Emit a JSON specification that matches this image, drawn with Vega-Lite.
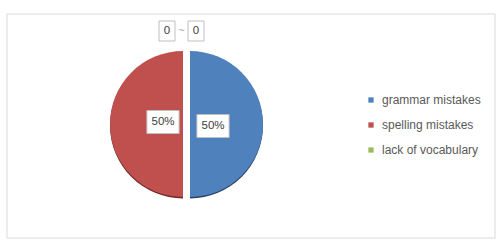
{
  "$schema": "https://vega.github.io/schema/vega-lite/v6.json",
  "width": 488,
  "height": 224,
  "autosize": {"type": "none"},
  "padding": {"left": 7, "top": 14, "right": 6, "bottom": 14},
  "background": "white",
  "config": {"font": "Liberation Sans", "view": {"stroke": "#d9d9d9", "strokeWidth": 1}},
  "data": {
    "values": [
      {"category": "grammar mistakes", "value": 50, "label": "50%", "rank": 1},
      {"category": "spelling mistakes", "value": 50, "label": "50%", "rank": 2},
      {"category": "lack of vocabulary", "value": 0, "label": "0", "rank": 3}
    ]
  },
  "transform": [
    {"stack": "value", "groupby": [], "sort": [{"field": "rank", "order": "ascending"}], "as": ["t0", "t1"]}
  ],
  "encoding": {
    "theta": {"field": "t0", "type": "quantitative", "stack": null, "scale": {"domain": [0, 100]}},
    "theta2": {"field": "t1"}
  },
  "layer": [
    {
      "transform": [{"filter": "datum.category == 'grammar mistakes'"}],
      "mark": {"type": "rect", "fill": null, "filled": false, "stroke": "#d9d9d9", "strokeWidth": 1},
      "encoding": {"theta": null, "theta2": null}
    },
    {
      "transform": [{"filter": "datum.category == 'grammar mistakes'"}],
      "mark": {"type": "arc", "outerRadius": 73, "xOffset": -61, "yOffset": -0.6, "color": "#2a4467"}
    },
    {
      "transform": [{"filter": "datum.category == 'spelling mistakes'"}],
      "mark": {"type": "arc", "outerRadius": 73, "xOffset": -68, "yOffset": -0.6, "color": "#6b2a28"}
    },
    {
      "transform": [{"filter": "datum.category != 'spelling mistakes'"}],
      "mark": {"type": "arc", "outerRadius": 73, "xOffset": -61, "yOffset": -2},
      "encoding": {
        "color": {
          "field": "category",
          "type": "nominal",
          "scale": {
            "domain": ["grammar mistakes", "spelling mistakes", "lack of vocabulary"],
            "range": ["#4F81BD", "#C0504D", "#9BBB59"]
          },
          "legend": {
            "title": null,
            "orient": "none",
            "legendX": 358,
            "legendY": 80,
            "symbolType": "square",
            "symbolSize": 28,
            "symbolStrokeWidth": 0,
            "labelFontSize": 12,
            "labelColor": "#595959",
            "labelOffset": 5,
            "rowPadding": 13,
            "padding": 0
          }
        }
      }
    },
    {
      "transform": [{"filter": "datum.category == 'spelling mistakes'"}],
      "mark": {"type": "arc", "outerRadius": 73, "xOffset": -68, "yOffset": -2},
      "encoding": {
        "color": {"field": "category", "type": "nominal"}
      }
    },
    {
      "transform": [{"filter": "datum.category == 'spelling mistakes'"}],
      "mark": {"type": "point", "shape": "M-1.4,-1L1.4,-1L1.4,1L-1.4,1Z", "size": 529, "filled": true, "fill": "white", "stroke": "#bfbfbf", "strokeWidth": 1, "opacity": 1, "xOffset": -88, "yOffset": -4},
      "encoding": {"theta": null, "theta2": null}
    },
    {
      "transform": [{"filter": "datum.category == 'grammar mistakes'"}],
      "mark": {"type": "point", "shape": "M-1.4,-1L1.4,-1L1.4,1L-1.4,1Z", "size": 529, "filled": true, "fill": "white", "stroke": "#bfbfbf", "strokeWidth": 1, "opacity": 1, "xOffset": -38, "yOffset": 0},
      "encoding": {"theta": null, "theta2": null}
    },
    {
      "transform": [{"filter": "datum.category == 'spelling mistakes'"}],
      "mark": {"type": "text", "fontSize": 11.5, "color": "#404040", "xOffset": -88, "yOffset": -4},
      "encoding": {"theta": null, "theta2": null, "text": {"field": "label"}}
    },
    {
      "transform": [{"filter": "datum.category == 'grammar mistakes'"}],
      "mark": {"type": "text", "fontSize": 11.5, "color": "#404040", "xOffset": -38, "yOffset": 0},
      "encoding": {"theta": null, "theta2": null, "text": {"field": "label"}}
    },
    {
      "transform": [{"filter": "datum.category == 'lack of vocabulary'"}],
      "mark": {"type": "point", "shape": "M-0.8,-1L0.8,-1L0.8,1L-0.8,1Z", "size": 400, "filled": true, "fill": "white", "stroke": "#bfbfbf", "strokeWidth": 1, "opacity": 1, "xOffset": -84, "yOffset": -95},
      "encoding": {"theta": null, "theta2": null}
    },
    {
      "transform": [{"filter": "datum.category == 'lack of vocabulary'"}],
      "mark": {"type": "point", "shape": "M-0.8,-1L0.8,-1L0.8,1L-0.8,1Z", "size": 400, "filled": true, "fill": "white", "stroke": "#bfbfbf", "strokeWidth": 1, "opacity": 1, "xOffset": -55, "yOffset": -95},
      "encoding": {"theta": null, "theta2": null}
    },
    {
      "transform": [{"filter": "datum.category == 'lack of vocabulary'"}],
      "mark": {"type": "text", "fontSize": 11.5, "color": "#404040", "xOffset": -84, "yOffset": -95},
      "encoding": {"theta": null, "theta2": null, "text": {"field": "label"}}
    },
    {
      "transform": [{"filter": "datum.category == 'lack of vocabulary'"}],
      "mark": {"type": "text", "fontSize": 11.5, "color": "#404040", "xOffset": -55, "yOffset": -95},
      "encoding": {"theta": null, "theta2": null, "text": {"field": "label"}}
    },
    {
      "transform": [{"filter": "datum.category == 'lack of vocabulary'"}],
      "mark": {"type": "text", "text": "~", "fontSize": 11, "color": "#a6a6a6", "xOffset": -69.5, "yOffset": -95},
      "encoding": {"theta": null, "theta2": null}
    }
  ]
}
